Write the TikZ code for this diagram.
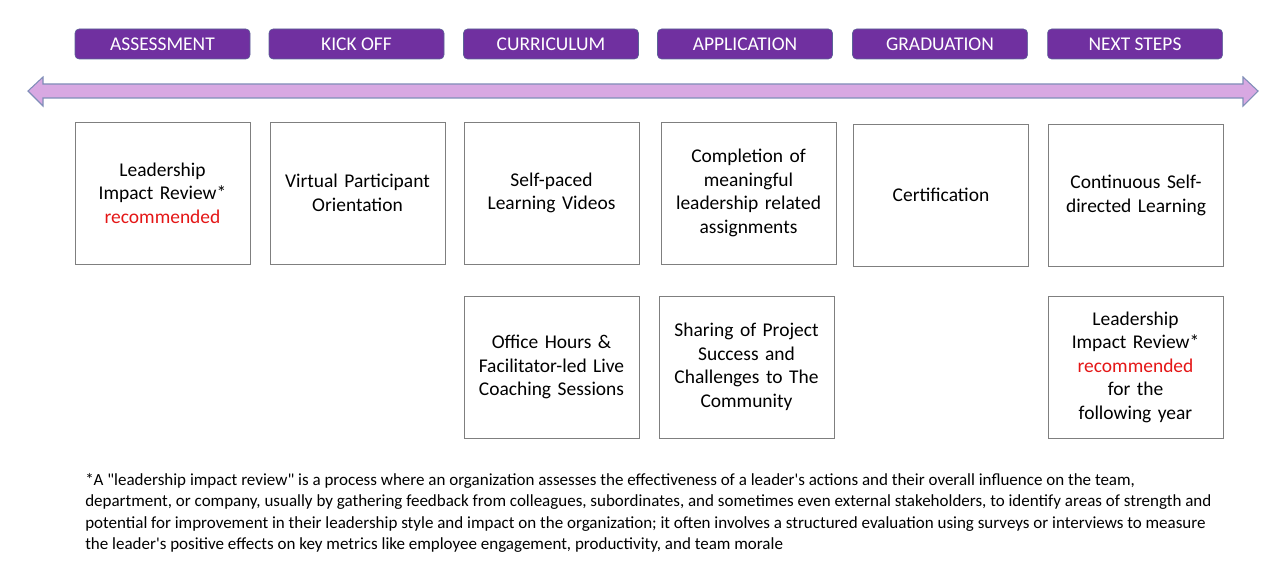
\documentclass[tikz,border=0pt]{standalone}
\usepackage{fontspec}
\setmainfont{Carlito}
\definecolor{hdrpurple}{RGB}{112,48,160}
\definecolor{hdredge}{RGB}{90,100,150}
\definecolor{arrowfill}{RGB}{216,168,226}
\definecolor{arrowedge}{RGB}{128,142,184}
\definecolor{boxedge}{RGB}{127,127,127}
\definecolor{recred}{RGB}{228,22,22}
\newcommand{\rec}{\textcolor{recred}{recommended}}
\begin{document}
\begin{tikzpicture}[
    x=0.75pt, y=-0.75pt,
    header/.style={rectangle, rounded corners=3pt, draw=hdredge, fill=hdrpurple, text=white,
      minimum width=175*0.75pt, minimum height=30*0.75pt, inner sep=0pt,
      font=\fontsize{14.6}{16}\selectfont},
    stage/.style={rectangle, draw=boxedge, line width=0.6pt, minimum width=175*0.75pt,
      minimum height=142*0.75pt, text width=170*0.75pt, align=center, inner sep=0pt,
      font=\fontsize{14.6}{17.6}\selectfont}
  ]
  \useasboundingbox (0,0) rectangle (1280,570);
  % stage headers
  \node[header] (hAssess) at (162.5,44) {ASSESSMENT};
  \node[header] (hKick)   at (356.5,44) {KICK OFF};
  \node[header] (hCurr)   at (551,44)   {CURRICULUM};
  \node[header] (hAppl)   at (745,44)   {APPLICATION};
  \node[header] (hGrad)   at (940,44)   {GRADUATION};
  \node[header] (hNext)   at (1135,44)  {NEXT STEPS};
  % timeline arrow
  \filldraw[fill=arrowfill, draw=arrowedge, line width=0.8pt]
    (28,91) -- (43,77) -- (43,84) -- (1243,84) -- (1243,77) -- (1258,91)
    -- (1243,106) -- (1243,98) -- (43,98) -- (43,106) -- cycle;
  % first row
  \node[stage] (sAssess) at (162.5,193) {Leadership\\Impact Review*\\\rec};
  \node[stage] (sKick)   at (357.5,193) {Virtual Participant\\Orientation};
  \node[stage] (sCurr)   at (551.5,193) {Self-paced\\Learning Videos};
  \node[stage] (sAppl)   at (748.5,193) {Completion of\\meaningful\\leadership related\\assignments};
  \node[stage] (sGrad)   at (941,195)   {Certification};
  \node[stage] (sNext)   at (1136,195.5) {Continuous Self-\\directed Learning};
  % second row
  \node[stage] (sCurrB)  at (551.5,367) {Office Hours \&\\Facilitator-led Live\\Coaching Sessions};
  \node[stage] (sApplB)  at (746.5,367) {Sharing of Project\\Success and\\Challenges to The\\Community};
  \node[stage] (sNextB)  at (1135.5,367) {Leadership\\Impact Review*\\\rec\\for the\\following year};
  % footnote
  \node[anchor=north west, align=left, inner sep=0pt, font=\fontsize{12.75}{16}\selectfont]
    (note) at (85,473) {*A \textquotedbl leadership impact review\textquotedbl{} is a process where an organization assesses the effectiveness of a leader\textquotesingle s actions and their overall influence on the team,\\
    department, or company, usually by gathering feedback from colleagues, subordinates, and sometimes even external stakeholders, to identify areas of strength and\\
    potential for improvement in their leadership style and impact on the organization; it often involves a structured evaluation using surveys or interviews to measure\\
    the leader\textquotesingle s positive effects on key metrics like employee engagement, productivity, and team morale};
\end{tikzpicture}
\end{document}
